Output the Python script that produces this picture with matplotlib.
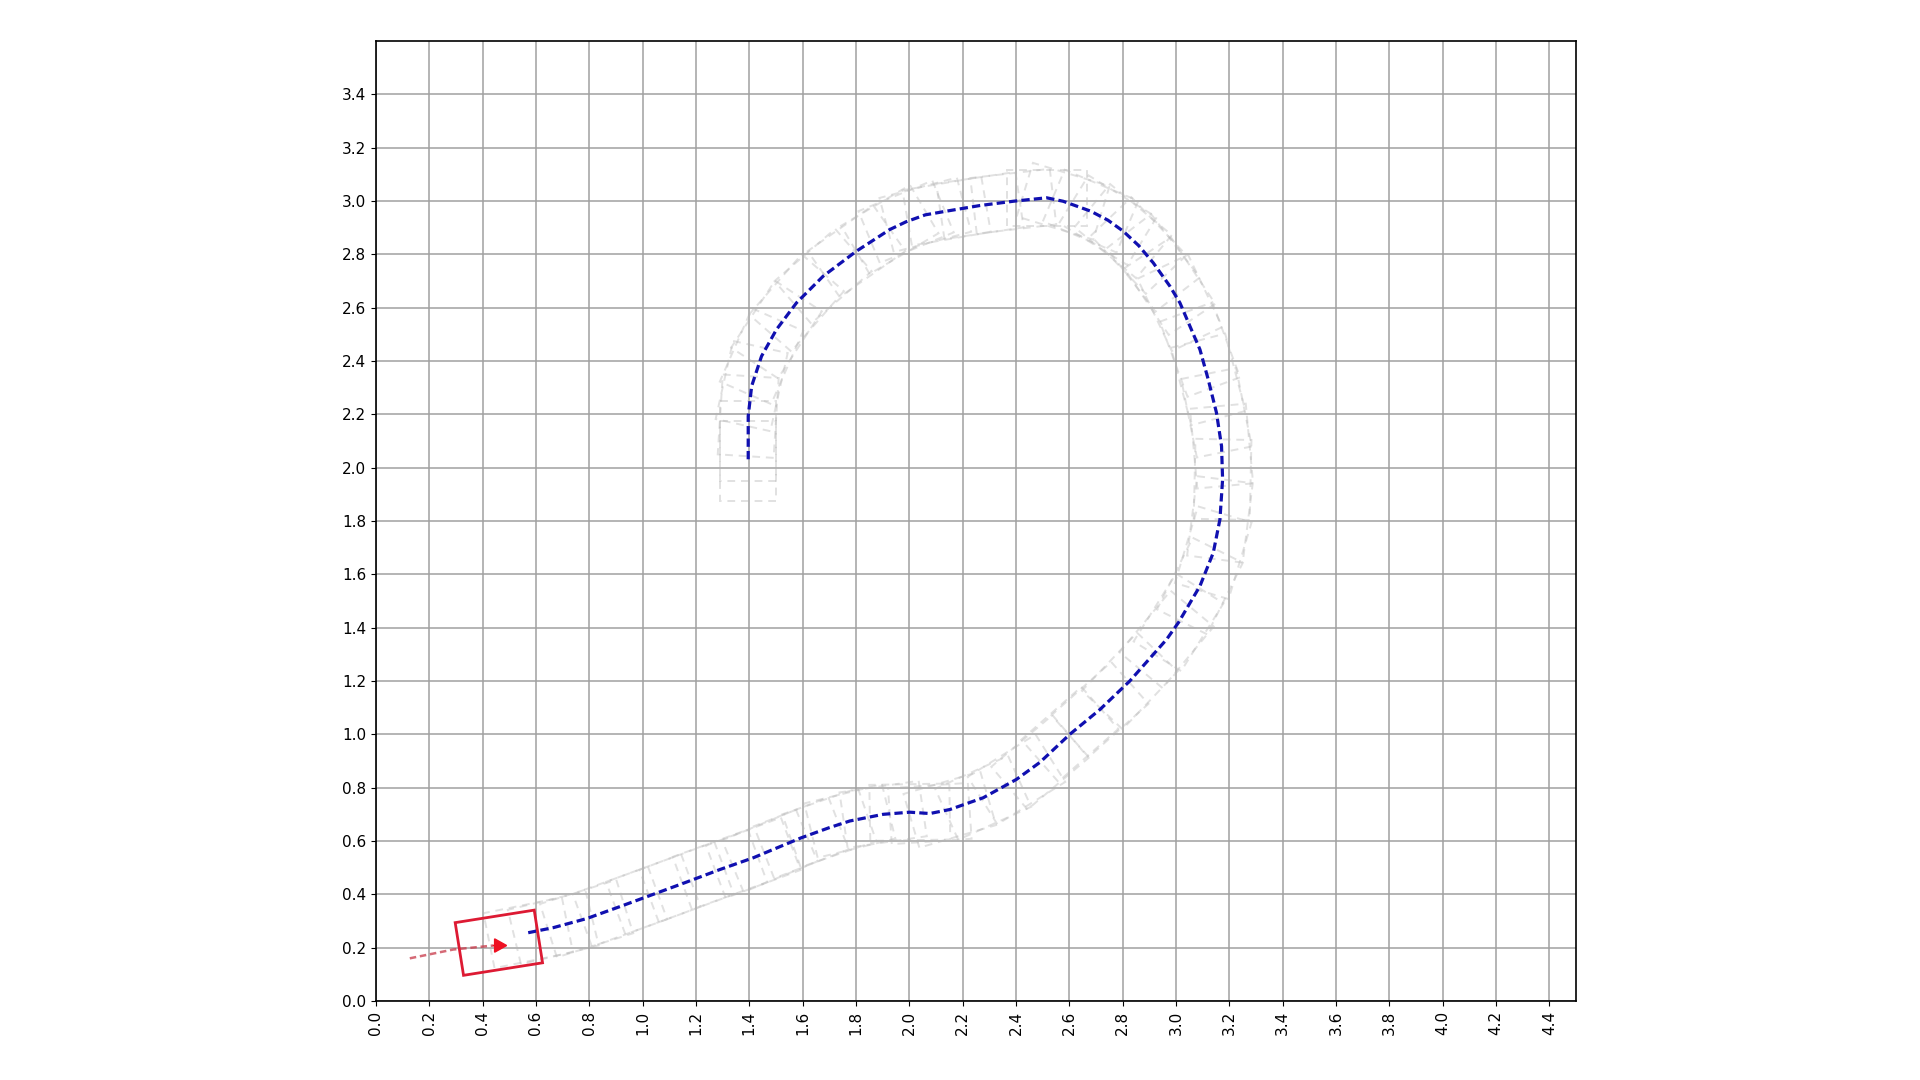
import numpy as np
import matplotlib
matplotlib.use("Agg")
import matplotlib.pyplot as plt
from matplotlib.patches import Polygon

# Planned path (blue)
path_x = [0.571, 0.665, 0.790, 0.915, 1.040, 1.165, 1.290, 1.415, 1.477, 1.595, 1.700,
          1.777, 1.902, 2.002, 2.077, 2.152, 2.277, 2.402, 2.490, 2.602, 2.715, 2.827,
          2.965, 3.010, 3.090, 3.140, 3.165, 3.175, 3.171, 3.152, 3.121, 3.090, 3.015,
          2.977, 2.915, 2.860, 2.802, 2.745, 2.680, 2.577, 2.515, 2.390, 2.265, 2.140,
          2.060, 1.988, 1.927, 1.802, 1.677, 1.577, 1.502, 1.446, 1.409, 1.396, 1.396,
          1.396]
path_y = [0.256, 0.275, 0.309, 0.354, 0.400, 0.446, 0.493, 0.537, 0.563, 0.612, 0.650,
          0.675, 0.700, 0.708, 0.703, 0.718, 0.762, 0.831, 0.895, 1.000, 1.093, 1.200,
          1.356, 1.420, 1.556, 1.681, 1.806, 1.956, 2.081, 2.206, 2.331, 2.443, 2.618,
          2.681, 2.768, 2.833, 2.887, 2.928, 2.962, 2.999, 3.012, 2.999, 2.983, 2.962,
          2.948, 2.922, 2.893, 2.812, 2.718, 2.618, 2.518, 2.418, 2.306, 2.193, 2.100,
          2.024]

# Travelled trail (red)
trail_x = [0.127, 0.290, 0.440]
trail_y = [0.160, 0.193, 0.208]

# Vehicle state
veh_x, veh_y, veh_yaw_deg = 0.461, 0.2185, 9.0
veh_len, veh_wid = 0.30, 0.20
foot_len, foot_wid = 0.30, 0.21

fig = plt.figure(figsize=(19.2, 10.8), dpi=100)
ax = fig.add_axes([0.1958, 0.0726, 0.625, 0.890])

def rect_corners(cx, cy, yaw, L, W):
    c, s = np.cos(yaw), np.sin(yaw)
    pts = np.array([[L/2, W/2], [L/2, -W/2], [-L/2, -W/2], [-L/2, W/2]])
    R = np.array([[c, -s], [s, c]])
    return pts @ R.T + np.array([cx, cy])

px = np.array(path_x)
py = np.array(path_y)
yaws = np.arctan2(np.gradient(py), np.gradient(px))

# Footprints
for x, y, a in zip(px, py, yaws):
    poly = Polygon(rect_corners(x, y, a, foot_len, foot_wid), closed=True,
                   fill=False, edgecolor='#b4b4b4', linestyle=(0, (4, 3)), linewidth=1.4,
                   alpha=0.4, zorder=2)
    ax.add_patch(poly)

ax.plot(px, py, linestyle=(0, (2.6, 1.3)), color='#1010b0', linewidth=2.3, zorder=4)

ax.plot(trail_x, trail_y, linestyle=(0, (2.6, 1.5)), color='#c83848', linewidth=1.8,
        alpha=0.75, zorder=4)

veh = Polygon(rect_corners(veh_x, veh_y, np.deg2rad(veh_yaw_deg), veh_len, veh_wid),
              closed=True, fill=False, edgecolor='#dd1a33', linewidth=2.0, zorder=5)
ax.add_patch(veh)
ax.arrow(trail_x[-1], trail_y[-1], 0.005, 0.0, head_width=0.05, head_length=0.045,
         length_includes_head=False, color='#ee1122', zorder=6)

ax.set_xlim(0, 4.5)
ax.set_ylim(0, 3.6)
ax.set_aspect('equal')
ax.set_xticks(np.round(np.arange(0, 4.41, 0.2), 1))
ax.set_yticks(np.round(np.arange(0, 3.41, 0.2), 1))
ax.set_xticklabels([f"{v:.1f}" for v in np.arange(0, 4.41, 0.2)], rotation=90)
ax.tick_params(labelsize=11)
ax.grid(True, color='#a0a0a0', linewidth=1.1)
ax.set_axisbelow(True)
for sp in ax.spines.values():
    sp.set_linewidth(1.2)

fig.savefig("out.png", dpi=100, facecolor='white')
